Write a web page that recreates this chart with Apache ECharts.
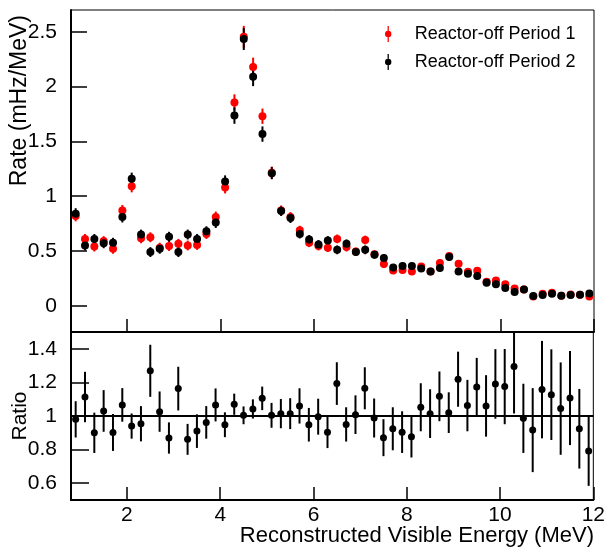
<!DOCTYPE html>
<html>
<head>
<meta charset="utf-8">
<script src="https://cdn.jsdelivr.net/npm/echarts@6/dist/echarts.min.js"></script>
<style>html,body{margin:0;padding:0;background:#fff;}#c{width:608px;height:548px;}</style>
</head>
<body>
<div id="c"></div>
<script>
const energy = [0.9,1.1,1.3,1.5,1.7,1.9,2.1,2.3,2.5,2.7,2.9,3.1,3.3,3.5,3.7,3.9,4.1,4.3,4.5,4.7,4.9,5.1,5.3,5.5,5.7,5.9,6.1,6.3,6.5,6.7,6.9,7.1,7.3,7.5,7.7,7.9,8.1,8.3,8.5,8.7,8.9,9.1,9.3,9.5,9.7,9.9,10.1,10.3,10.5,10.7,10.9,11.1,11.3,11.5,11.7,11.9];
const ratePeriod1 = [0.82,0.61,0.54,0.59,0.52,0.87,1.09,0.615,0.625,0.53,0.545,0.565,0.55,0.555,0.655,0.81,1.08,1.855,2.455,2.18,1.73,1.215,0.87,0.81,0.69,0.575,0.545,0.53,0.61,0.535,0.495,0.6,0.47,0.38,0.322,0.325,0.312,0.357,0.313,0.389,0.455,0.383,0.31,0.319,0.219,0.231,0.195,0.158,0.149,0.085,0.109,0.119,0.091,0.103,0.1,0.085];
const ratePeriod2 = [0.84,0.55,0.61,0.57,0.575,0.81,1.16,0.65,0.49,0.52,0.63,0.49,0.65,0.61,0.68,0.76,1.135,1.736,2.435,2.09,1.567,1.21,0.864,0.80,0.654,0.605,0.56,0.595,0.51,0.565,0.49,0.51,0.465,0.436,0.348,0.362,0.362,0.34,0.313,0.344,0.444,0.313,0.292,0.271,0.21,0.195,0.161,0.125,0.149,0.088,0.097,0.109,0.091,0.097,0.1,0.112];
const rateErr = [0.05,0.045,0.045,0.045,0.045,0.05,0.055,0.045,0.045,0.045,0.045,0.045,0.045,0.045,0.045,0.05,0.055,0.075,0.1,0.085,0.07,0.055,0.045,0.045,0.04,0.04,0.04,0.04,0.04,0.04,0.035,0.04,0.035,0.033,0.03,0.03,0.03,0.03,0.03,0.032,0.035,0.03,0.028,0.028,0.025,0.025,0.022,0.02,0.02,0.015,0.015,0.016,0.015,0.015,0.015,0.015];
const ratio = [0.98,1.113,0.90,1.03,0.902,1.066,0.94,0.954,1.269,1.026,0.869,1.163,0.861,0.91,0.962,1.066,0.948,1.07,1.004,1.042,1.105,1.004,1.014,1.014,1.06,0.948,0.996,0.904,1.193,0.95,1.008,1.165,0.988,0.871,0.924,0.904,0.877,1.052,1.014,1.117,1.02,1.219,1.062,1.173,1.06,1.191,1.175,1.295,0.986,0.916,1.157,1.127,1.044,1.107,0.924,0.791];
const ratioErr = [0.108,0.15,0.12,0.124,0.11,0.10,0.075,0.105,0.155,0.12,0.093,0.13,0.092,0.1,0.097,0.098,0.074,0.063,0.053,0.057,0.07,0.074,0.087,0.092,0.105,0.1,0.107,0.095,0.127,0.102,0.115,0.125,0.116,0.11,0.128,0.124,0.124,0.143,0.145,0.148,0.121,0.164,0.153,0.173,0.183,0.207,0.224,0.28,0.206,0.25,0.29,0.27,0.275,0.28,0.237,0.207];
const xTicks = [2,4,6,8,10,12];
const rateTicks = [0,0.5,1,1.5,2,2.5];
const ratioTicks = [0.6,0.8,1,1.2,1.4];
const seriesNames = ['Reactor-off Period 1','Reactor-off Period 2'];
const xTitle = 'Reconstructed Visible Energy (MeV)';
const rateTitle = 'Rate (mHz/MeV)';
const ratioTitle = 'Ratio';

const FONT = '"Liberation Sans", Arial, Helvetica, sans-serif';
const chart = echarts.init(document.getElementById('c'));

function errSeries(name, data, color, xi, yi) {
  return {
    type: 'custom', name: name, xAxisIndex: xi, yAxisIndex: yi, clip: true, silent: true,
    data: data,
    renderItem: function (params, api) {
      const x = api.value(0), y = api.value(1), e = api.value(2);
      const p1 = api.coord([x, y - e]);
      const p2 = api.coord([x, y + e]);
      return { type: 'line', shape: { x1: p1[0], y1: p1[1], x2: p2[0], y2: p2[1] },
        style: { stroke: color, lineWidth: 2 } };
    }
  };
}
const d1 = energy.map((e, i) => [e, ratePeriod1[i], rateErr[i]]);
const d2 = energy.map((e, i) => [e, ratePeriod2[i], rateErr[i]]);
const dr = energy.map((e, i) => [e, ratio[i], ratioErr[i]]);

const ICON = 'path://M4.2,0L5.8,0L5.8,20L4.2,20Z M1,10A4,4 0 1,1 9,10A4,4 0 1,1 1,10Z';

function xAxisCfg(gi, showLabels) {
  return {
    type: 'value', gridIndex: gi, min: 0.8, max: 12,
    axisLine: { show: true, onZero: false, lineStyle: { color: '#000', width: 2 } },
    axisTick: { show: true, inside: true, length: 13, customValues: xTicks, lineStyle: { color: '#000', width: 1.5 } },
    axisLabel: { show: showLabels, customValues: xTicks, color: '#000', fontSize: 21, fontFamily: FONT, margin: 5 },
    splitLine: { show: false }
  };
}
function yAxisCfg(gi, min, max, ticks, tickLen) {
  return {
    type: 'value', gridIndex: gi, min: min, max: max,
    axisLine: { show: true, onZero: false, lineStyle: { color: '#000', width: 2 } },
    axisTick: { show: true, inside: true, length: tickLen, customValues: ticks, lineStyle: { color: '#000', width: 1.5 } },
    axisLabel: { show: true, customValues: ticks, color: '#000', fontSize: 21, fontFamily: FONT, margin: 14 },
    splitLine: { show: false }
  };
}

chart.setOption({
  animation: false,
  backgroundColor: '#fff',
  grid: [
    { left: 71, right: 14, top: 10, height: 322, show: true, borderColor: '#000', borderWidth: 1, backgroundColor: 'transparent' },
    { left: 71, right: 14, top: 332, height: 168, show: true, borderColor: '#000', borderWidth: 1, backgroundColor: 'transparent' }
  ],
  xAxis: [xAxisCfg(0, false), xAxisCfg(1, true)],
  yAxis: [yAxisCfg(0, -0.24, 2.7, rateTicks, 16), yAxisCfg(1, 0.5, 1.5, ratioTicks, 18)],
  legend: {
    data: [{ name: seriesNames[0], icon: ICON }, { name: seriesNames[1], icon: ICON }],
    orient: 'vertical', left: 380, top: 20, itemWidth: 9, itemHeight: 16, itemGap: 10,
    selectedMode: false,
    textStyle: { fontSize: 18, color: '#000', fontFamily: FONT, padding: [0, 0, 0, 17] }
  },
  graphic: [
    { type: 'text', x: 20, y: 15, rotation: Math.PI / 2,
      style: { text: rateTitle, font: '23px ' + FONT, fill: '#000', textAlign: 'right', textVerticalAlign: 'middle' } },
    { type: 'text', x: 20, y: 416, rotation: Math.PI / 2,
      style: { text: ratioTitle, font: '21px ' + FONT, fill: '#000', textAlign: 'center', textVerticalAlign: 'middle' } },
    { type: 'text', x: 594, y: 536,
      style: { text: xTitle, font: '22px ' + FONT, fill: '#000', textAlign: 'right', textVerticalAlign: 'middle' } }
  ],
  series: [
    errSeries('err1', d1, '#ff0000', 0, 0),
    { type: 'scatter', name: seriesNames[0], xAxisIndex: 0, yAxisIndex: 0, data: d1, symbol: 'circle', symbolSize: 8,
      itemStyle: { color: '#ff0000', opacity: 1 } },
    errSeries('err2', d2, '#000000', 0, 0),
    { type: 'scatter', name: seriesNames[1], xAxisIndex: 0, yAxisIndex: 0, data: d2, symbol: 'circle', symbolSize: 8,
      itemStyle: { color: '#000000', opacity: 1 } },
    errSeries('errR', dr, '#000000', 1, 1),
    { type: 'scatter', name: 'ratio', xAxisIndex: 1, yAxisIndex: 1, data: dr, symbol: 'circle', symbolSize: 7,
      itemStyle: { color: '#000000', opacity: 1 },
      markLine: { silent: true, symbol: 'none', label: { show: false },
        lineStyle: { color: '#000', width: 2, type: 'solid' }, data: [{ yAxis: 1 }] } }
  ]
});
</script>
</body>
</html>
